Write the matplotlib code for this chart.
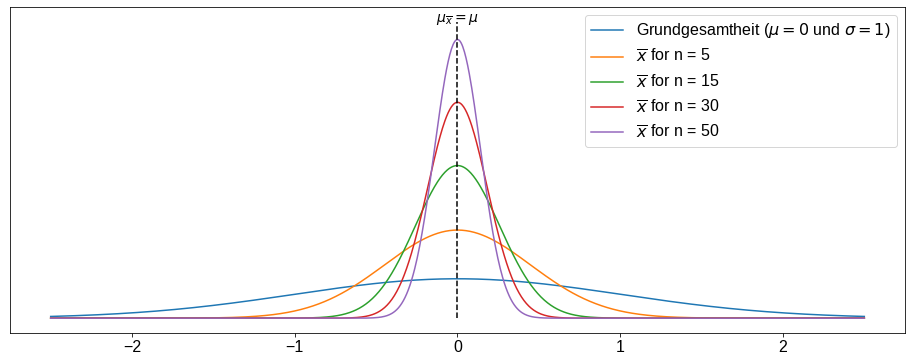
import numpy as np
import matplotlib
matplotlib.use('Agg')
import matplotlib.pyplot as plt

# parameters of the chart
mu = 0.0
sigma = 1.0
sample_sizes = [5, 15, 30, 50]
x_min, x_max = -2.5, 2.5
vline_top = 3.0
xticks = [-2, -1, 0, 1, 2]

plt.rcParams['font.family'] = ['Liberation Sans', 'DejaVu Sans']


def normal_pdf(x, m, s):
    return np.exp(-0.5 * ((x - m) / s) ** 2) / (s * np.sqrt(2 * np.pi))


x = np.linspace(x_min, x_max, 1000)

fig = plt.figure(figsize=(910 / 72, 362 / 72), dpi=72)
ax = fig.add_axes([10 / 910, 29 / 362, 895 / 910, 326 / 362])

ax.plot(x, normal_pdf(x, mu, sigma),
        label=r'Grundgesamtheit ($\mu = 0$ und $\sigma = 1$)')
for n in sample_sizes:
    ax.plot(x, normal_pdf(x, mu, sigma / np.sqrt(n)),
            label=r'$\overline{x}$ for n = ' + str(n))

ax.vlines(mu, 0, vline_top, colors='black', linestyles='--')
ax.text(mu, vline_top, r'$\mu_{\overline{x}} = \mu$', ha='center', fontsize=14)

ax.set_yticks([])
ax.set_xticks(xticks)
ax.tick_params(axis='x', labelsize=16)
ax.legend(loc='upper right', fontsize=16)

fig.savefig('out.png', dpi=72)
